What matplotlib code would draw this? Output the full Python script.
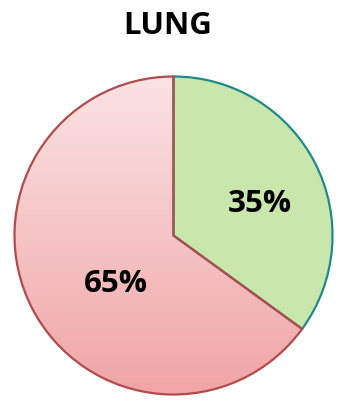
import numpy as np
import matplotlib
matplotlib.use("Agg")
import matplotlib.pyplot as plt
from matplotlib.colors import LinearSegmentedColormap

title = "LUNG"
categories = ["Green", "Red"]
values = [35, 65]
labels = ["35%", "65%"]

fig = plt.figure(figsize=(3.37, 4.01), dpi=100)
ax = fig.add_axes([14.5 / 337, 6.5 / 401, 318 / 337, 318 / 401])
ax.set_xlim(-1.0, 1.0)
ax.set_ylim(-1.0, 1.0)
ax.set_aspect("equal")
ax.axis("off")

wedges, _ = ax.pie(values, startangle=90, counterclock=False, radius=1.0,
                   colors=["#c9e6ac", "none"],
                   wedgeprops=dict(linewidth=1.6))
wedges[0].set_edgecolor("#1f8a8c")
wedges[1].set_edgecolor("#b24b4b")
wedges[0].set_zorder(2)
wedges[1].set_zorder(3)

# gradient fill for red slice
cmap = LinearSegmentedColormap.from_list("g", ["#f0a5a6", "#fbe3e4"])
grad = np.linspace(0, 1, 256).reshape(-1, 1)
im = ax.imshow(grad, extent=[-1, 1, -1, 1], origin="lower", cmap=cmap,
               aspect="auto", zorder=1)
im.set_clip_path(wedges[1])
ax.set_xlim(-1.0, 1.0)
ax.set_ylim(-1.0, 1.0)

font = dict(family=["Open Sans", "DejaVu Sans"], fontweight="bold")
ax.text(0.54, 0.195, labels[0], ha="center", va="center", fontsize=22.5, zorder=5, **font)
ax.text(-0.36, -0.305, labels[1], ha="center", va="center", fontsize=22.5, zorder=5, **font)

fig.text(167.5 / 337, 1 - 26 / 401, title, ha="center", va="center", fontsize=22.5, **font)

fig.savefig("out.png", dpi=100)
